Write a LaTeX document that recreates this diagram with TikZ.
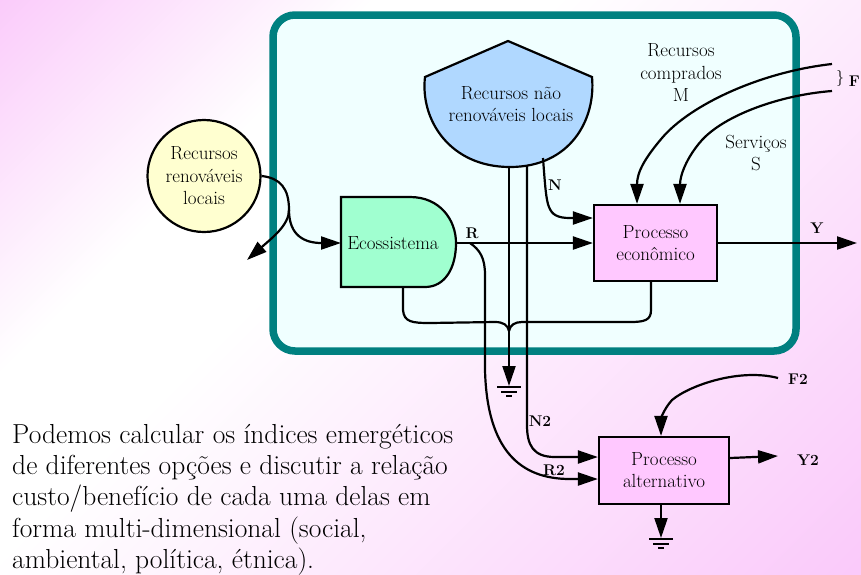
\documentclass[tikz,border=0pt]{standalone}
\usepackage{fontspec}
\usetikzlibrary{arrows.meta,shapes.geometric}

\definecolor{bgpink}{RGB}{250,202,250}
\definecolor{frameteal}{RGB}{0,128,128}
\definecolor{framefill}{RGB}{240,255,255}
\definecolor{stockblue}{RGB}{176,216,255}
\definecolor{ecogreen}{RGB}{160,255,208}
\definecolor{procpink}{RGB}{255,200,255}
\definecolor{sourceyellow}{RGB}{255,255,208}

% diagonal backdrop: pink corner, pale band near the upper left, pink opposite corner
\pgfdeclareverticalshading{backdrop}{100bp}{color(0bp)=(bgpink); color(15bp)=(bgpink);
  color(58bp)=(white); color(67bp)=(white); color(86bp)=(bgpink); color(100bp)=(bgpink)}

\tikzset{
  wire/.style={line width=2.2pt},
  flow/.style={line width=2.2pt, -{Triangle[length=20pt,width=13pt]}},
  lbl/.style={font=\fontsize{19}{22.5}\selectfont, align=center, inner sep=0pt},
  tag/.style={font=\fontsize{15.5}{18}\selectfont\bfseries, inner sep=0pt},
  procbox/.style={draw, line width=2.2pt, fill=procpink, align=center,
    font=\fontsize{19}{22}\selectfont, inner sep=0pt},
  bodytext/.style={anchor=base west, inner sep=0pt, font=\fontsize{27.5}{31}\selectfont},
  heatsink/.pic={\draw[line width=2.2pt] (-12,0) -- (12,0) (-8,5) -- (8,5) (-3,9) -- (3,9);}
}

\begin{document}
\begin{tikzpicture}[x=1pt, y=-1pt]
\useasboundingbox (0,0) rectangle (861,574);
\clip (0,0) rectangle (861,574);

% background
\shade[shading=backdrop, shading angle=45] (0,0) rectangle (861,574);

% system frame
\draw[line width=7.5pt, draw=frameteal, fill=framefill, rounded corners=22pt]
  (273,15) rectangle (796,351);

% non-renewable storage
\draw[line width=2.2pt, fill=stockblue]
  (508,41) -- (592,77) .. controls (596,120) and (570,167) .. (510,167)
  .. controls (450,167) and (420,120) .. (425,77) -- cycle;
\node[lbl] (stock) at (511,104) {Recursos não\\renováveis locais};
\coordinate (stockL) at (509,166);
\coordinate (stockR) at (527,165);
\coordinate (stockN) at (543,158);

% ecosystem producer
\draw[line width=2.2pt, fill=ecogreen]
  (341,197) -- (410,197) .. controls (440,197) and (456,220) .. (456,243)
  .. controls (456,268) and (445,287) .. (425,287) -- (341,287) -- cycle;
\node[lbl] (eco) at (393,243) {Ecossistema};
\coordinate (ecoIn) at (341,243);
\coordinate (ecoOut) at (456,243);
\coordinate (ecoBot) at (403,287);

% renewable source
\node[draw, ellipse, line width=2.2pt, fill=sourceyellow, minimum width=113pt,
  minimum height=112pt, lbl] (renew) at (204,176) {Recursos\\renováveis\\locais};

% processes
\node[procbox, minimum width=123pt, minimum height=76pt] (econ) at (655.5,243)
  {Processo\\econômico};
\node[procbox, minimum width=130pt, minimum height=67pt] (alt) at (664,470.5)
  {Processo\\alternativo};

% free ends
\coordinate (split) at (289,210);
\coordinate (leak) at (247,260);
\coordinate (rSplit) at (470,243);
\coordinate (sinkA) at (509,386);
\coordinate (sinkB) at (661,538);
\coordinate (join) at (509,331);
\coordinate (yEnd) at (857,243);
\coordinate (mStart) at (832,64);
\coordinate (sStart) at (832,91);
\coordinate (f2Start) at (778,378);
\coordinate (y2End) at (778,456);

% renewable inflow
\draw[wire] (renew.east) .. controls (280,178) and (289,188) .. (split);
\draw[flow] (split) .. controls (289,236) and (305,243) .. (ecoIn);
\draw[flow] (split) .. controls (289,225) and (272,238) .. (leak);

% ecosystem to economy
\draw[flow] (ecoOut) -- (econ.west);
\node[tag] (lblR) at (472,233) {R};

% non-renewable flow into the economy
\draw[flow] (stockN) .. controls (545,185) and (546,200) .. (549,207)
  .. controls (552,215) and (558,218) .. (570,218) -- ([yshift=25pt]econ.west);
\node[tag] (lblN) at (555,185) {N};

% depreciation to the heat sink
\draw[flow] (stockL) -- (sinkA);
\pic at (509,387) {heatsink};
\draw[wire] (ecoBot) -- (403,310) .. controls (404,322) and (412,323) .. (430,323)
  -- (495,322) .. controls (503,322) and (508,325) .. (join);
\draw[wire] ([xshift=-4.5pt]econ.south) -- (651,310) .. controls (651,320) and (645,322) .. (630,322)
  -- (522,322) .. controls (515,322) and (510,325) .. (join);

% purchased resources and services
\draw[flow] (mStart) .. controls (760,72) and (690,105) .. (662,138)
  .. controls (645,158) and (637,172) .. ([xshift=-18.5pt]econ.north);
\draw[flow] (sStart) .. controls (780,95) and (725,115) .. (702,140)
  .. controls (686,158) and (680,176) .. ([xshift=24.5pt]econ.north);
\node[lbl] (lblM) at (681,73) {Recursos\\comprados\\M};
\node[lbl] (lblS) at (756,153) {Serviços\\S};
\node[font=\fontsize{16}{18}\selectfont, inner sep=0pt] (brace) at (840,78) {\}};
\node[tag, anchor=east] (lblF) at (860,81) {F};

% economic yield
\draw[flow] (econ.east) -- (yEnd);
\node[tag] (lblY) at (817,228) {Y};

% alternative process
\draw[flow] (rSplit) .. controls (480,250) and (485,258) .. (485,275) -- (485,370)
  .. controls (487,450) and (520,479) .. (570,479) -- ([yshift=-8.5pt]alt.west);
\node[tag] (lblR2) at (554,470) {R2};
\draw[flow] (stockR) -- (527,425) .. controls (527,445) and (533,457) .. (555,457)
  -- ([yshift=13.5pt]alt.west);
\node[tag] (lblN2) at (540,421) {N2};
\draw[flow] (f2Start) .. controls (740,368) and (690,385) .. (672,400)
  .. controls (663,410) and (661,420) .. ([xshift=-3pt]alt.north);
\node[tag] (lblF2) at (798,379) {F2};
\draw[flow] ([yshift=12.5pt]alt.east) -- (y2End);
\node[tag] (lblY2) at (808,460) {Y2};
\draw[flow] ([xshift=-3pt]alt.south) -- (sinkB);
\pic at (661,539) {heatsink};

% commentary
\node[bodytext] (note1) at (12,443) {Podemos calcular os índices emergéticos};
\node[bodytext] (note2) at (12,474) {de diferentes opções e discutir a relação};
\node[bodytext] (note3) at (12,505) {custo/benefício de cada uma delas em};
\node[bodytext] (note4) at (12,537) {forma multi-dimensional (social,};
\node[bodytext] (note5) at (12,568) {ambiental, política, étnica).};
\end{tikzpicture}
\end{document}
